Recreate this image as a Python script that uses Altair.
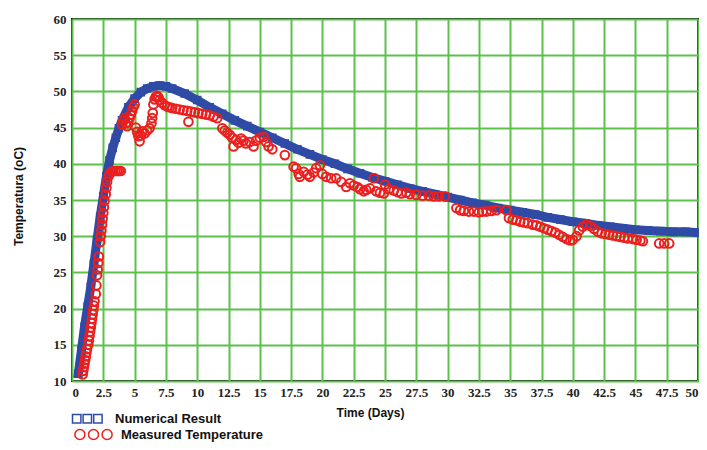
import altair as alt
import pandas as pd

# ---- data ----
num_t = [0.5, 0.75, 1.0, 1.25, 1.5, 1.75, 2.0, 2.25, 2.5, 2.75, 3.0, 3.25, 3.5, 3.75, 4.0,
         4.5, 5.0, 5.5, 6.0, 6.5, 7.0, 7.5, 8.0, 9, 10, 11, 12, 13, 14, 15, 16, 17, 18, 19,
         20, 21, 22, 23, 24, 25, 26, 27, 28, 29, 30, 31, 32, 33, 34, 35, 36, 37, 38, 39, 40,
         41, 42, 43, 44, 45, 46, 47, 48, 49, 50]
num_T = [11.0, 14.2, 17.5, 20.3, 23.0, 26.2, 29.5, 32.7, 35.5, 38.3, 40.5, 42.2, 43.6, 44.9, 46.0,
         47.8, 49.0, 49.9, 50.4, 50.7, 50.8, 50.7, 50.4, 49.7, 48.8, 47.8, 46.9, 46.0, 45.2, 44.4,
         43.6, 42.8, 42.0, 41.3, 40.6, 40.0, 39.3, 38.7, 38.1, 37.6, 37.1, 36.6, 36.2, 35.8, 35.4,
         35.0, 34.6, 34.3, 33.9, 33.6, 33.3, 33.0, 32.6, 32.3, 32.0, 31.8, 31.5, 31.3, 31.1, 30.9,
         30.8, 30.7, 30.6, 30.6, 30.5]

meas_t = [0.85, 0.9, 0.95, 1.0, 1.05, 1.1, 1.15, 1.2, 1.3, 1.35, 1.4, 1.45, 1.5, 1.55, 1.6, 1.65,
          1.7, 1.75, 1.8, 1.9, 1.95,
          2.0, 2.05, 2.1, 2.15, 2.25, 2.3, 2.35, 2.4, 2.45, 2.5, 2.55, 2.6, 2.7, 2.75, 2.8, 2.9,
          3.0, 3.15, 3.3, 3.45, 3.6, 3.75, 3.9,
          4.0, 4.1, 4.2, 4.3, 4.4, 4.5, 4.6, 4.7, 4.8, 4.9, 5.0,
          5.1, 5.2, 5.3, 5.4, 5.5, 5.6, 5.8, 6.0, 6.2, 6.35, 6.4, 6.45,
          6.5, 6.6, 6.7, 6.8, 6.9, 7.0, 7.2, 7.4, 7.6, 7.8, 8.0, 8.3, 8.6, 8.9, 9.2, 9.3, 9.5,
          9.8, 10.1, 10.4, 10.7, 11.0, 11.3, 11.6,
          12.0, 12.2, 12.4, 12.6, 12.8, 12.9, 13.1, 13.3, 13.5, 13.7, 13.9, 14.2, 14.5, 14.7,
          15.0, 15.3, 15.5, 15.7, 16.0,
          17.0, 17.7, 17.9, 18.1, 18.2, 18.5, 18.8, 19.0, 19.3, 19.5, 19.8, 20.0, 20.3, 20.7,
          21.1, 21.5, 21.9, 22.2, 22.5, 22.8, 23.0, 23.3, 23.5, 23.8, 24.1, 24.3, 24.6, 24.9,
          25.0, 25.3, 25.7, 26.0, 26.3, 26.7, 27.0, 27.5, 28.0, 28.5, 28.9, 29.3, 29.8,
          30.7, 31.0, 31.3, 31.7, 32.1, 32.5, 32.8, 33.1, 33.5, 33.9, 34.7, 34.9, 35.2, 35.5,
          35.8, 36.1, 36.4, 36.8, 37.1, 37.4, 37.7, 38.0, 38.3, 38.6, 38.9, 39.2, 39.5, 39.8,
          40.0, 40.3, 40.5, 40.8, 41.1, 41.4, 41.7, 42.0, 42.3, 42.6, 42.9, 43.2, 43.5, 43.8,
          44.1, 44.4, 44.8, 45.1, 45.4, 45.6, 46.9, 47.3, 47.7]
meas_T = [10.9, 11.4, 11.9, 12.4, 12.9, 13.4, 13.9, 14.4, 15.0, 15.6, 16.2, 16.8, 17.4, 18.0, 18.6, 19.2,
          19.8, 20.4, 21.0, 22.0, 23.2,
          24.6, 25.4, 26.3, 27.2, 29.2, 30.0, 30.8, 31.6, 32.4, 33.2, 34.0, 34.9, 35.8, 36.7, 37.5, 38.2,
          38.6, 38.9, 39.0, 39.0, 39.0, 39.0, 39.0,
          45.4, 45.9, 46.3, 45.6, 45.2, 45.7, 46.3, 46.8, 47.3, 47.8, 48.2,
          45.0, 44.4, 43.8, 43.1, 43.9, 44.5, 44.2, 44.6, 44.9, 45.6, 46.3, 47.0,
          48.2, 48.9, 49.3, 49.4, 49.2, 48.8, 48.4, 48.1, 47.9, 47.8, 47.7, 47.6, 47.5, 47.4, 47.3, 45.8, 47.2,
          47.1, 47.0, 46.9, 46.8, 46.7, 46.5, 46.3,
          44.9, 44.6, 44.3, 44.0, 43.6, 42.4, 43.3, 42.9, 43.5, 43.2, 42.8, 43.0, 42.4, 43.2,
          43.6, 43.7, 43.0, 42.4, 42.0,
          41.2, 39.6, 39.4, 38.6, 38.2, 38.9, 38.5, 38.2, 38.8, 39.4, 39.8, 38.6, 38.2, 38.0,
          38.0, 37.5, 36.8, 37.3, 37.0, 36.8, 36.5, 36.2, 36.4, 36.6, 38.0, 36.2, 36.0, 35.9,
          37.1, 36.5, 36.3, 36.1, 35.9, 36.0, 35.8, 35.7, 35.6, 35.6, 35.5, 35.5, 35.5,
          33.9, 33.6, 33.5, 33.4, 33.4, 33.3, 33.4, 33.4, 33.5, 33.6, 33.6, 32.5, 32.3, 32.2,
          32.0, 31.9, 31.8, 31.6, 31.5, 31.3, 31.1, 30.9, 30.7, 30.5, 30.2, 29.9, 29.6, 29.4,
          29.5, 30.0, 30.8, 31.3, 31.6, 31.4, 31.0, 30.6, 30.4, 30.3, 30.2, 30.1, 30.0, 29.9,
          29.8, 29.7, 29.6, 29.5, 29.4, 29.3, 29.0, 29.0, 29.0]

x_ticks = [0, 2.5, 5, 7.5, 10, 12.5, 15, 17.5, 20, 22.5, 25, 27.5, 30, 32.5, 35, 37.5,
           40, 42.5, 45, 47.5, 50]
y_ticks = [10, 15, 20, 25, 30, 35, 40, 45, 50, 55, 60]

series_names = ["Numerical Result", "Measured Temperature"]

# ---- styling ----
BLUE = "#2f4ba6"
RED = "#ec1f1f"
GREEN = "#5cc14a"
SERIF = "Liberation Serif"
SANS = "Liberation Sans"

# legend glyphs: three squares / three circles as custom symbol paths (unit = sqrt(size)/2 px)
SQ3 = ("M-1,-1h2.1v2.1h-2.1z M1.65,-1h2.1v2.1h-2.1z M4.3,-1h2.1v2.1h-2.1z")
r = 1.25
CI3 = " ".join(
    f"M{c - r:.3f},0 a{r},{r} 0 1,0 {2 * r:.3f},0 a{r},{r} 0 1,0 {-2 * r:.3f},0"
    for c in (0.35, 3.75, 7.15)
)

num_df = pd.DataFrame({"t": num_t, "T": num_T, "series": series_names[0]})
meas_df = pd.DataFrame({"t": meas_t, "T": meas_T, "series": series_names[1]})

x_enc = alt.X(
    "t:Q",
    scale=alt.Scale(domain=[0, 50], nice=False, zero=False),
    axis=alt.Axis(
        values=x_ticks, labelExpr="'' + datum.value", title="Time (Days)", grid=True,
        ticks=False, domain=False, labelFont=SERIF, labelFontWeight="bold", labelFontSize=13,
        labelColor="#222", labelPadding=5, labelFlush=True, labelOverlap=False,
        titleFont=SANS, titleFontWeight="bold", titleFontSize=12, titleColor="#111",
        titleX=298, titleY=31, titleBaseline="middle", titleAlign="center",
    ),
)
y_enc = alt.Y(
    "T:Q",
    scale=alt.Scale(domain=[10, 60], nice=False, zero=False),
    axis=alt.Axis(
        values=y_ticks, labelExpr="'' + datum.value", title="Temperatura (oC)", grid=True,
        ticks=False, domain=False, labelFont=SERIF, labelFontWeight="bold", labelFontSize=13,
        labelColor="#222", labelPadding=6, labelFlush=False, labelOverlap=False,
        titleFont=SANS, titleFontWeight="bold", titleFontSize=12, titleColor="#111",
        titleX=-54, titleY=177, titleAngle=270, titleBaseline="middle", titleAlign="center",
    ),
)

band = alt.Chart(num_df).mark_line(color=BLUE, strokeWidth=9, strokeCap="square").encode(
    x=x_enc, y=y_enc
)

squares = alt.Chart(num_df).mark_point(
    shape="square", filled=False, size=50, strokeWidth=1.5, opacity=1
).encode(
    x=x_enc, y=y_enc,
    color=alt.Color(
        "series:N",
        scale=alt.Scale(domain=[series_names[0]], range=[BLUE]),
        legend=alt.Legend(
            title=None, orient="none", legendX=-2, legendY=393, padding=0,
            symbolType=SQ3, symbolSize=64, symbolStrokeWidth=1.5,
            symbolStrokeColor=BLUE, symbolFillColor="transparent",
            labelFont=SANS, labelFontWeight="bold", labelFontSize=13,
            labelColor="#111", labelOffset=32,
        ),
    ),
)

circles = alt.Chart(meas_df).mark_point(
    shape="circle", filled=False, size=75, strokeWidth=2, opacity=1
).encode(
    x=x_enc, y=y_enc,
    color=alt.Color(
        "series:N",
        scale=alt.Scale(domain=[series_names[1]], range=[RED]),
        legend=alt.Legend(
            title=None, orient="none", legendX=0, legendY=409, padding=0,
            symbolType=CI3, symbolSize=64, symbolStrokeWidth=1.5,
            symbolStrokeColor="#d83030", symbolFillColor="transparent",
            labelFont=SANS, labelFontWeight="bold", labelFontSize=13,
            labelColor="#111", labelOffset=36,
        ),
    ),
)

chart = (
    alt.layer(band, squares, circles)
    .resolve_scale(color="independent")
    .resolve_legend(color="independent")
    .properties(
        width=626, height=362,
        autosize=alt.AutoSizeParams(type="none"),
        padding={"left": 64, "top": 11, "right": 1, "bottom": 61},
        background="white",
    )
    .configure_view(stroke="#111", strokeWidth=2)
    .configure_axis(gridColor=GREEN, gridWidth=2, gridOpacity=1)
)

chart.save("out.html", embed_options={"renderer": "svg", "actions": False})
